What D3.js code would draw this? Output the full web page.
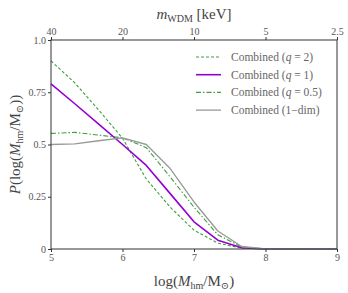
<!DOCTYPE html>
<html>
<head>
<meta charset="utf-8">
<script src="https://cdn.jsdelivr.net/npm/d3@7"></script>
<style>
  body { margin: 0; background: #fff; }
  svg text { font-family: "Liberation Serif", "DejaVu Serif", serif; fill: #444; }
  .axis path, .axis line { stroke: #333; }
  .axis text { font-size: 10px; fill: #555; }
  .legend text { fill: #666; }
</style>
</head>
<body>
<svg id="chart"></svg>
<script>
// log(M_hm / M_sun) grid
const logM = [5, 5.333, 5.667, 6, 6.333, 6.667, 7, 7.333, 7.667, 8, 8.333, 8.667, 9];

const q2   = [0.90, 0.795, 0.665, 0.53, 0.335, 0.20, 0.09, 0.028, 0.004, 0, 0, 0, 0];
const q1   = [0.79, 0.695, 0.598, 0.50, 0.40, 0.265, 0.13, 0.042, 0.006, 0, 0, 0, 0];
const q05  = [0.553, 0.558, 0.545, 0.532, 0.485, 0.345, 0.20, 0.068, 0.010, 0, 0, 0, 0];
const oneD = [0.50, 0.503, 0.518, 0.532, 0.50, 0.385, 0.225, 0.086, 0.012, 0, 0, 0, 0];

const xTicks = [5, 6, 7, 8, 9];
const yTicks = [0, 0.25, 0.5, 0.75, 1.0];
const mTicks = [40, 20, 10, 5, 2.5];

const series = [
  { name: 'Combined (', q: '2',   vals: q2,   color: '#3ca03c', width: 1.1, dash: '3,2' },
  { name: 'Combined (', q: '1',   vals: q1,   color: '#9400d3', width: 1.6, dash: null },
  { name: 'Combined (', q: '0.5', vals: q05,  color: '#3ca03c', width: 1.1, dash: '5,2,1.5,2' },
  { name: 'Combined (1\u2212dim)', q: null, vals: oneD, color: '#999', width: 1.3, dash: null }
];

const W = 348, H = 293;
const margin = { top: 40, right: 11, bottom: 44, left: 51 };
const width = W - margin.left - margin.right;
const height = H - margin.top - margin.bottom;

const svg = d3.select('#chart').attr('width', W).attr('height', H);
const g = svg.append('g').attr('transform', `translate(${margin.left},${margin.top})`);

const x = d3.scaleLinear().domain([5, 9]).range([0, width]);
const y = d3.scaleLinear().domain([0, 1]).range([height, 0]);
const xTop = d3.scaleLog().domain([40, 2.5]).range([0, width]);

const line = d3.line().x((d, i) => x(logM[i])).y(d => y(d));

series.forEach(s => {
  g.append('path')
    .datum(s.vals)
    .attr('fill', 'none')
    .attr('stroke', s.color)
    .attr('stroke-width', s.width)
    .attr('stroke-dasharray', s.dash)
    .attr('stroke-linejoin', 'round')
    .attr('d', line);
});

// frame
g.append('rect').attr('width', width).attr('height', height)
  .attr('fill', 'none').attr('stroke', '#333').attr('stroke-width', 1);

g.append('g').attr('class', 'axis')
  .attr('transform', `translate(0,${height})`)
  .call(d3.axisBottom(x).tickValues(xTicks).tickFormat(d3.format('d')).tickSize(3).tickPadding(2));

g.append('g').attr('class', 'axis')
  .call(d3.axisLeft(y).tickValues(yTicks).tickFormat(d => d === 0 ? '0' : d === 1 ? '1.0' : String(d)).tickSize(3).tickPadding(2));

g.append('g').attr('class', 'axis')
  .call(d3.axisTop(xTop).tickValues(mTicks).tickFormat(d => String(d)).tickSize(3).tickPadding(2));

g.selectAll('.axis .domain').remove();

// axis titles
svg.append('text')
  .attr('x', margin.left + width / 2).attr('y', 286)
  .attr('text-anchor', 'middle').style('font-size', '15px')
  .html('log(<tspan font-style="italic">M</tspan><tspan font-size="10px" dy="3">hm</tspan><tspan dy="-3">/M</tspan><tspan font-size="10px" dy="3">\u2299</tspan><tspan dy="-3">)</tspan>');

svg.append('text')
  .attr('transform', `translate(20,${margin.top + height / 2}) rotate(-90)`)
  .attr('text-anchor', 'middle').style('font-size', '15px')
  .html('<tspan font-style="italic">P</tspan>(log(<tspan font-style="italic">M</tspan><tspan font-size="10px" dy="3">hm</tspan><tspan dy="-3">/M</tspan><tspan font-size="10px" dy="3">\u2299</tspan><tspan dy="-3">))</tspan>');

svg.append('text')
  .attr('x', margin.left + width / 2).attr('y', 19)
  .attr('text-anchor', 'middle').style('font-size', '15px')
  .html('<tspan font-style="italic">m</tspan><tspan font-size="10px" dy="3">WDM</tspan><tspan dy="-3"> [keV]</tspan>');

// legend
const leg = g.append('g').attr('class', 'legend').attr('transform', 'translate(145,17)');
series.forEach((s, i) => {
  const row = leg.append('g').attr('transform', `translate(0,${i * 17.7})`);
  row.append('line').attr('x1', 0).attr('x2', 25)
    .attr('stroke', s.color).attr('stroke-width', s.width)
    .attr('stroke-dasharray', s.dash);
  const t = row.append('text').attr('x', 35).attr('y', 4).style('font-size', '11.5px');
  if (s.q !== null) {
    t.html(`${s.name}<tspan font-style="italic">q</tspan> = ${s.q})`);
  } else {
    t.text(s.name);
  }
});
</script>
</body>
</html>
